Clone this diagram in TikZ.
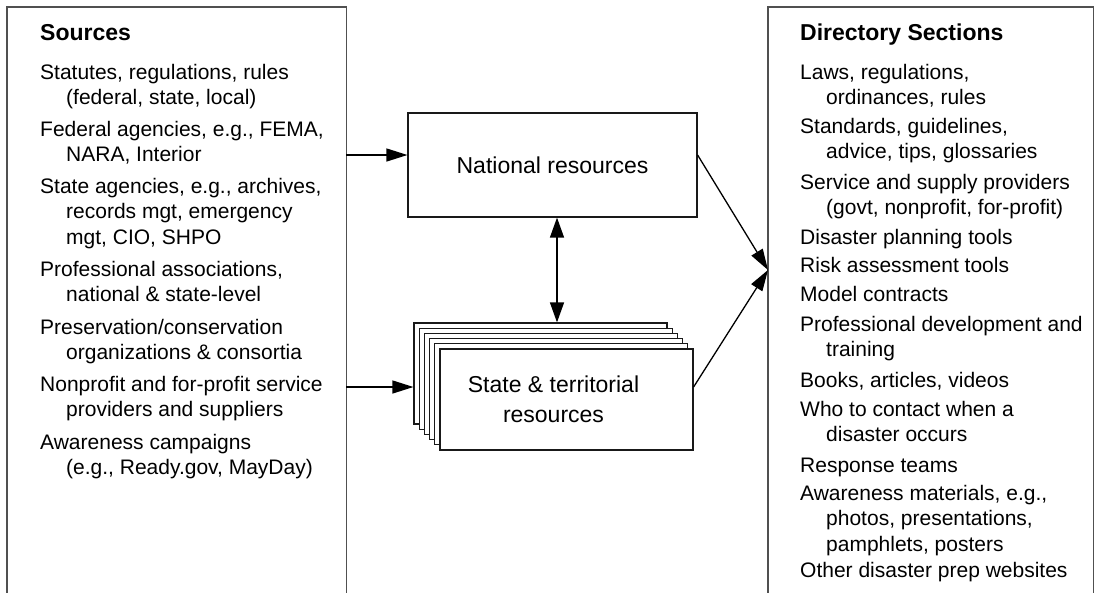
\documentclass[tikz,border=0pt]{standalone}
\usepackage{fontspec}
\setmainfont{Liberation Sans}
\usetikzlibrary{arrows.meta, calc}

\definecolor{framegray}{HTML}{505050}
\tikzset{
  panel/.style={minimum width=#1, minimum height=600pt, anchor=north west, inner sep=0pt},
  frame/.style={draw=framegray, line width=1.8pt},
  box/.style={draw=black!90, line width=1.2pt, fill=white, inner sep=0pt},
  % anchored at the baseline of the LAST line
  entry/.style={anchor=base west, align=left, inner sep=0pt, font=\fontsize{21}{25.5}\selectfont},
  head/.style={anchor=base west, inner sep=0pt, font=\fontsize{23}{28}\selectfont\bfseries},
  link/.style={line width=1.3pt, -{Triangle[length=21pt,width=13pt]}},
  both/.style={line width=1.3pt, {Triangle[length=20pt,width=14pt]}-{Triangle[length=20pt,width=14pt]}}
}
\newcommand{\wrapind}{\\\hspace*{26pt}}

\begin{document}
\begin{tikzpicture}[x=1pt, y=-1pt]
    \useasboundingbox (0,0) rectangle (1098,592);
    % outer panels, open at the bottom
    \node (src) [panel=339pt] at (7,7) {};
    \node (dir) [panel=325pt] at (768,7) {};
    \draw[frame] (src.south west) -- (src.north west) -- (src.north east) -- (src.south east);
    \draw[frame] (dir.south west) -- (dir.north west) -- (dir.north east) -- (dir.south east);

    \node (s0) [head] at (40,40) {Sources};
    \node (s1) [entry] at (40,104.5) {Statutes, regulations, rules\wrapind(federal, state, local)};
    \node (s2) [entry] at (40,161.5) {Federal agencies, e.g., FEMA,\wrapind NARA, Interior};
    \node (s3) [entry] at (40,244) {State agencies, e.g., archives,\wrapind records mgt, emergency\wrapind mgt, CIO, SHPO};
    \node (s4) [entry] at (40,301.5) {Professional associations,\wrapind national \& state-level};
    \node (s5) [entry] at (40,359.5) {Preservation/conservation\wrapind organizations \& consortia};
    \node (s6) [entry] at (40,416.5) {Nonprofit and for-profit service\wrapind providers and suppliers};
    \node (s7) [entry] at (40,474.5) {Awareness campaigns\wrapind(e.g., Ready.gov, MayDay)};

    \node (d0) [head] at (800,40) {Directory Sections};
    \node (d1) [entry] at (800,104.5) {Laws, regulations,\wrapind ordinances, rules};
    \node (d2) [entry] at (800,158.5) {Standards, guidelines,\wrapind advice, tips, glossaries};
    \node (d3) [entry] at (800,214.5) {Service and supply providers\wrapind(govt, nonprofit, for-profit)};
    \node (d4) [entry] at (800,244) {Disaster planning tools};
    \node (d5) [entry] at (800,272) {Risk assessment tools};
    \node (d6) [entry] at (800,301) {Model contracts};
    \node (d7) [entry] at (800,356.5) {Professional development and\wrapind training};
    \node (d8) [entry] at (800,387) {Books, articles, videos};
    \node (d9) [entry] at (800,441.5) {Who to contact when a\wrapind disaster occurs};
    \node (d10) [entry] at (800,472) {Response teams};
    \node (d11) [entry] at (800,551) {Awareness materials, e.g.,\wrapind photos, presentations,\wrapind pamphlets, posters};
    \node (d12) [entry] at (800,577) {Other disaster prep websites};

    % middle
    \node (nat) [box, minimum width=289pt, minimum height=104pt, font=\fontsize{23}{30}\selectfont] at (552.5,165) {National resources};
    \foreach \i in {5,...,0}
        \node (st\i) [box, minimum width=253pt, minimum height=101pt] at ({566.5-5.2*\i},{399.5-5.2*\i}) {};
    \node (sttxt) [align=center, inner sep=0pt, font=\fontsize{23}{30}\selectfont] at (553.5,399.5) {State \& territorial\\resources};

    \coordinate (rowA) at (0,155);
    \coordinate (rowB) at (0,387);
    \coordinate (colA) at (557,0);
    \coordinate (hub) at (768,270);
    \draw[link] (src.east |- rowA) -- (nat.west |- rowA);
    \draw[link] (src.east |- rowB) -- (st5.west |- rowB);
    \draw[both] (nat.south -| colA) -- (st5.north -| colA);
    \draw[link] (nat.east |- rowA) -- (hub);
    \draw[link] (st0.east |- rowB) -- (hub);
\end{tikzpicture}
\end{document}
